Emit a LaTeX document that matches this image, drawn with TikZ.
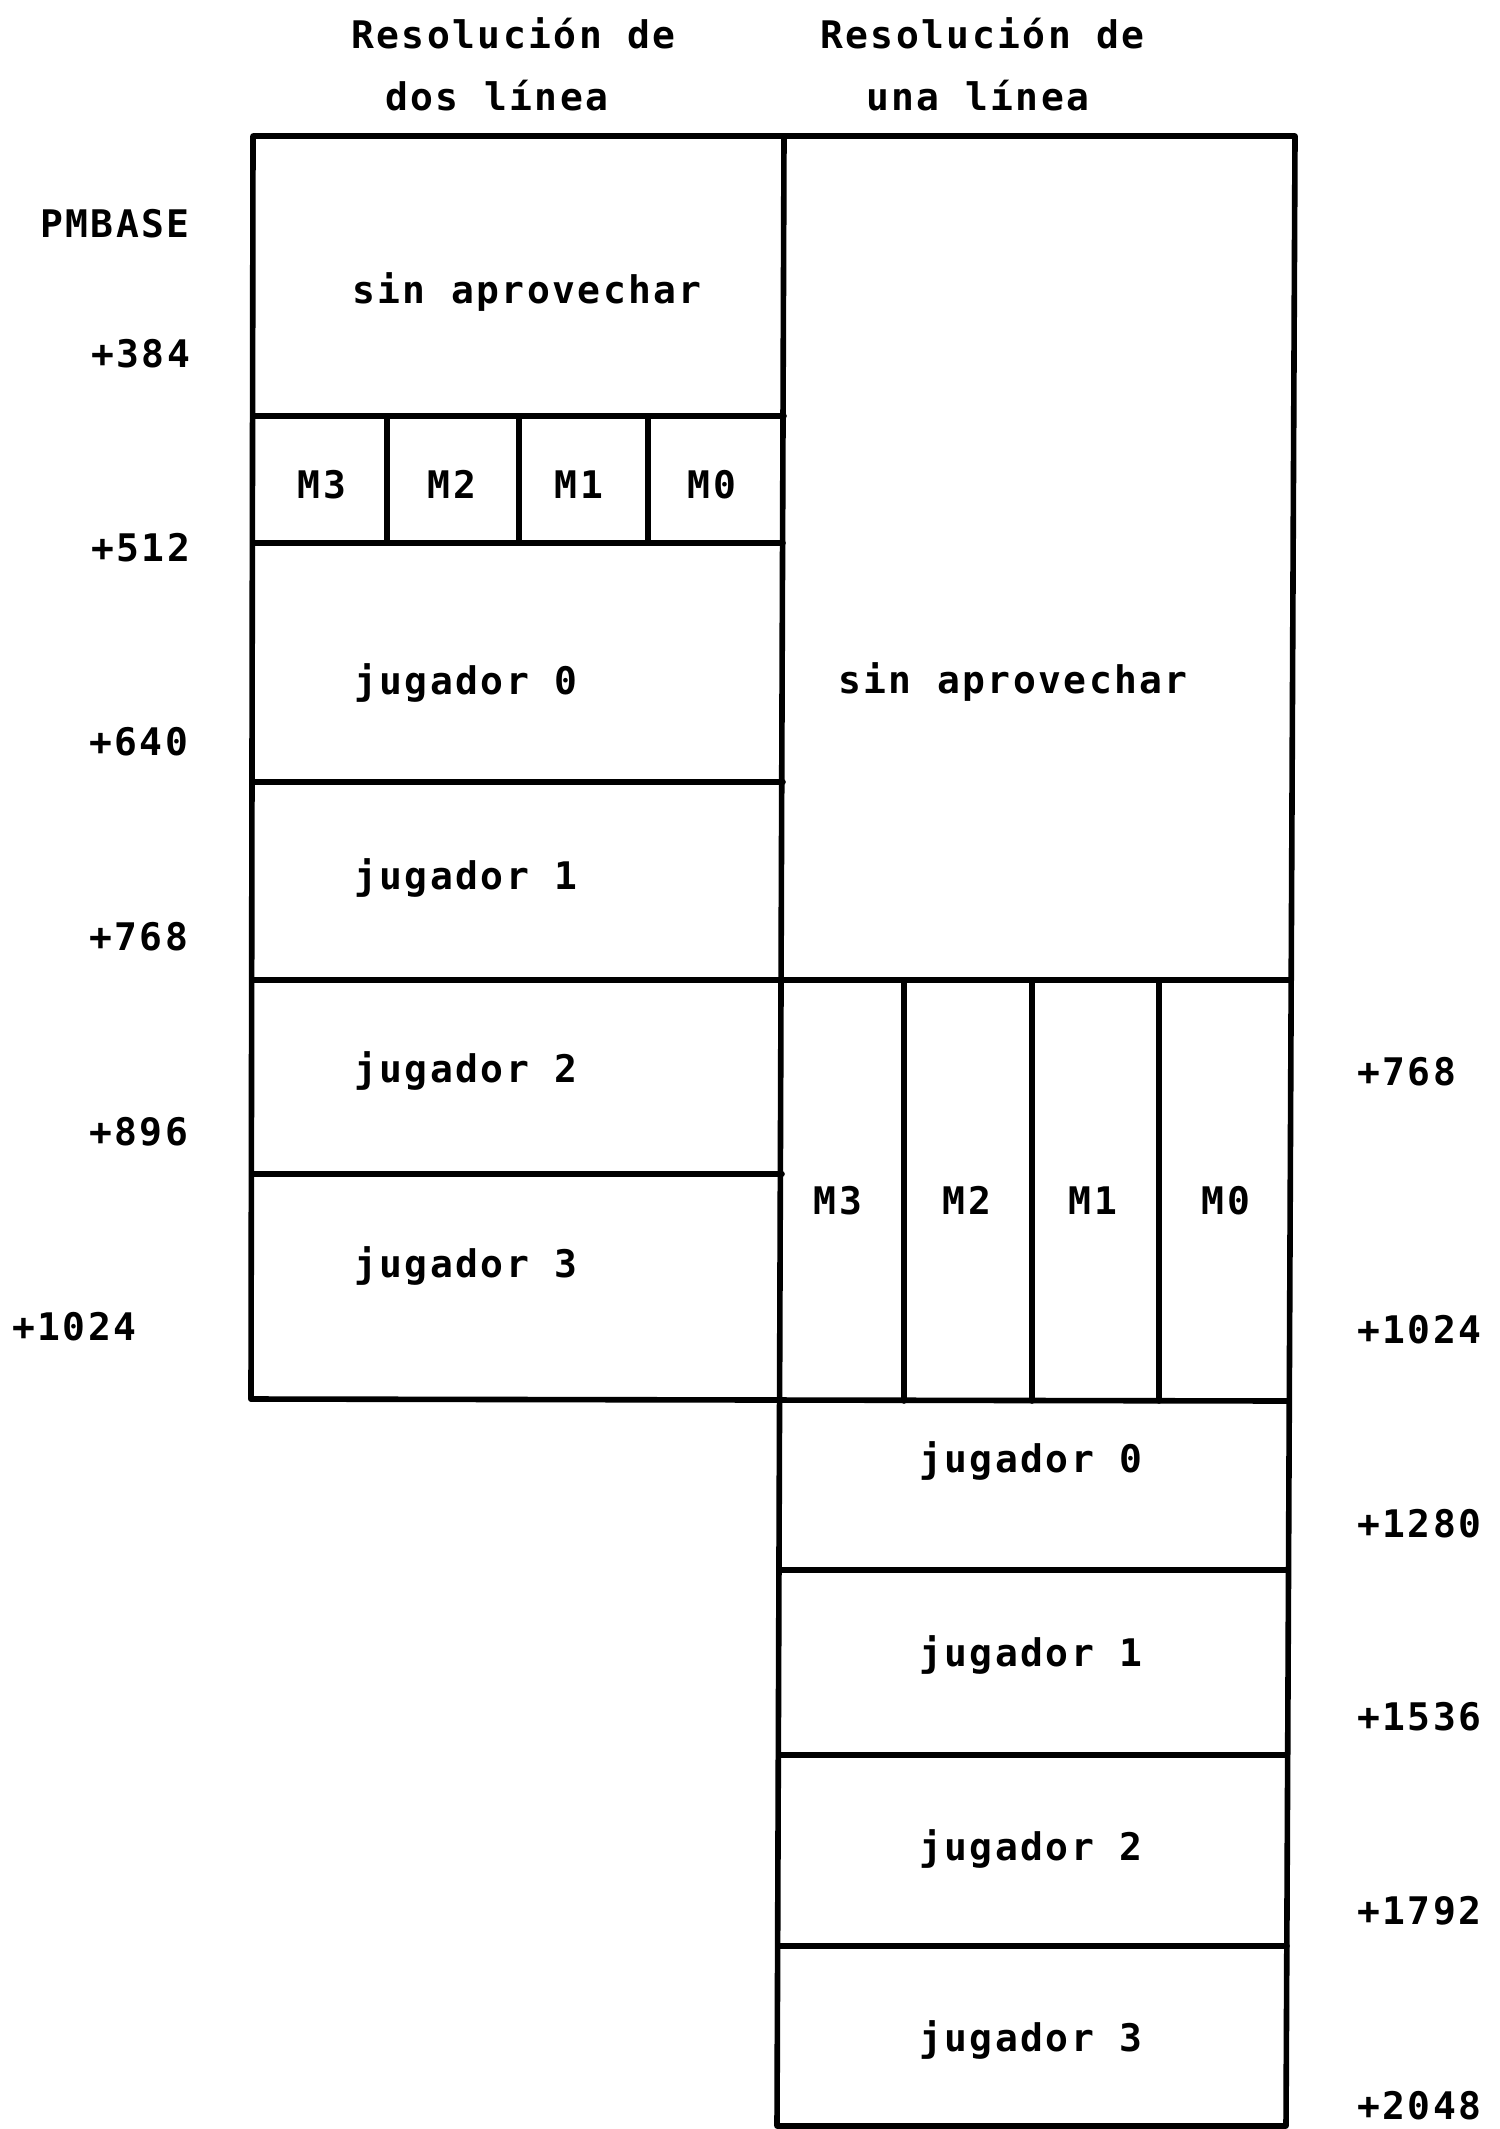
\documentclass[tikz,border=0pt]{standalone}
\usepackage{fontspec}
\newfontfamily\plotfont{DejaVu Sans Mono Bold}[LetterSpace=6.4]
\begin{document}
\begin{tikzpicture}[x=0.5pt,y=-0.5pt,
  wall/.style={line width=2.8pt,line cap=round,line join=round},
  lbl/.style={inner sep=0pt,anchor=base west,font=\plotfont\fontsize{19pt}{21pt}\selectfont},
  clbl/.style={inner sep=0pt,anchor=base,font=\plotfont\fontsize{19pt}{21pt}\selectfont}]
\useasboundingbox (0,0) rectangle (1499,2129);
% outer frame
\draw[wall] (251,1399) -- (253,136) -- (1295,136) -- (1286,2126) -- (777,2126) -- (784,136);
% left column
\draw[wall] (253,416) -- (784,416);
\draw[wall] (253,543) -- (783,543);
\draw[wall] (252,782) -- (783,782);
\draw[wall] (252,980) -- (1290,980);
\draw[wall] (252,1174) -- (782,1174);
\draw[wall] (251,1399) -- (1287,1401);
\foreach \x in {387,519,648} \draw[wall] (\x,416) -- (\x,543);
% right column
\foreach \x in {904,1032,1159} \draw[wall] (\x,980) -- (\x,1401);
\draw[wall] (780,1570) -- (1287,1570);
\draw[wall] (779,1755) -- (1287,1755);
\draw[wall] (778,1946) -- (1287,1946);
% headers
\node[lbl] (h1a) at (351,49) {Resolución de};
\node[lbl] (h1b) at (385,111) {dos línea};
\node[lbl] (h2a) at (820,49) {Resolución de};
\node[lbl] (h2b) at (866,111) {una línea};
% left address labels
\node[lbl] (pmb) at (40,238) {PMBASE};
\node[lbl] (a384) at (91,368) {+384};
\node[lbl] (a512) at (91,561) {+512};
\node[lbl] (a640) at (89,755) {+640};
\node[lbl] (a768) at (89,950) {+768};
\node[lbl] (a896) at (89,1145) {+896};
\node[lbl] (a1024) at (12,1340) {+1024};
% left column contents
\node[lbl] (lsin) at (352,304) {sin aprovechar};
\node[clbl] (lm3) at (322,498) {M3};
\node[clbl] (lm2) at (452,498) {M2};
\node[clbl] (lm1) at (579,498) {M1};
\node[clbl] (lm0) at (712,498) {M0};
\node[lbl] (lj0) at (354,694) {jugador 0};
\node[lbl] (lj1) at (354,889) {jugador 1};
\node[lbl] (lj2) at (354,1082) {jugador 2};
\node[lbl] (lj3) at (354,1277) {jugador 3};
% right column contents
\node[lbl] (rsin) at (838,693) {sin aprovechar};
\node[clbl] (rm3) at (838,1214) {M3};
\node[clbl] (rm2) at (967,1214) {M2};
\node[clbl] (rm1) at (1093,1214) {M1};
\node[clbl] (rm0) at (1226,1214) {M0};
\node[lbl] (rj0) at (919,1472) {jugador 0};
\node[lbl] (rj1) at (919,1666) {jugador 1};
\node[lbl] (rj2) at (919,1860) {jugador 2};
\node[lbl] (rj3) at (919,2051) {jugador 3};
% right address labels
\node[lbl] (b768) at (1357,1085) {+768};
\node[lbl] (b1024) at (1357,1343) {+1024};
\node[lbl] (b1280) at (1357,1537) {+1280};
\node[lbl] (b1536) at (1357,1730) {+1536};
\node[lbl] (b1792) at (1357,1924) {+1792};
\node[lbl] (b2048) at (1357,2119) {+2048};
\end{tikzpicture}
\end{document}
